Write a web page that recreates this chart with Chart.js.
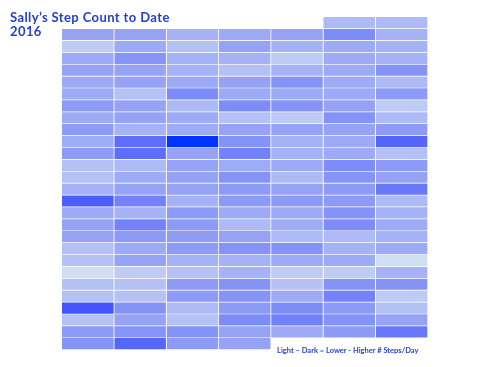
<!DOCTYPE html>
<html>
<head>
<meta charset="utf-8">
<script src="https://cdn.jsdelivr.net/npm/chart.js@4/dist/chart.umd.min.js"></script>
<style>
  html, body { margin: 0; padding: 0; background: #ffffff; }
  #wrap { position: relative; width: 490px; height: 367px; }
  #title { position: absolute; left: 10px; top: 10px; font-family: Lato, "Open Sans", sans-serif; font-weight: 700; font-size: 13px; letter-spacing: 0.4px; line-height: 14px; color: #2440cf; white-space: nowrap; }
  #note { position: absolute; left: 277px; top: 347px; font-family: Lato, "Open Sans", sans-serif; font-weight: 700; font-size: 7.5px; line-height: 8px; color: #2a44cc; white-space: nowrap; }
</style>
</head>
<body>
<div id="wrap">
  <canvas id="c" width="490" height="367"></canvas>
  <div id="title">Sally’s Step Count to Date<br>2016</div>
  <div id="note">Light – Dark = Lower - Higher # Steps/Day</div>
</div>
<script>
const days = ['Sun', 'Mon', 'Tue', 'Wed', 'Thu', 'Fri', 'Sat'];
const weeks = ['Dec 27', 'Jan 3', 'Jan 10', 'Jan 17', 'Jan 24', 'Jan 31', 'Feb 7', 'Feb 14', 'Feb 21', 'Feb 28',
  'Mar 6', 'Mar 13', 'Mar 20', 'Mar 27', 'Apr 3', 'Apr 10', 'Apr 17', 'Apr 24', 'May 1', 'May 8',
  'May 15', 'May 22', 'May 29', 'Jun 5', 'Jun 12', 'Jun 19', 'Jun 26', 'Jul 3'];

// Steps per day, one array per weekday column (rows = weeks)
const sun = [null,7610,4720,7030,7590,7040,7020,8170,7030,8160,7010,8180,5310,5290,6440,12190,7050,7600,7620,5320,5300,3580,5310,5280,12780,5300,8170,8760];
const mon = [null,7620,7030,8750,7600,7610,5310,7590,7620,6440,11040,11060,5870,7020,7610,9890,6450,9880,8170,7030,7600,4720,5300,5310,8760,7610,8750,11630];
const tue = [null,6440,5310,6450,6430,7030,9320,5870,7040,7030,17500,7600,7610,7620,7600,6440,8180,8170,8160,8170,6440,5300,8170,8180,5870,5300,8760,8170];
const wed = [null,7030,7610,6440,5300,7600,7030,9320,5310,7610,8760,9890,7020,8750,8170,8180,7030,5870,7610,8760,6450,6440,8760,8750,8170,9320,7600,7620];
const thu = [null,7600,6440,4720,6450,8760,7030,8750,4730,7620,6440,6450,7030,5870,7610,8170,7040,7020,5880,8760,7030,4720,5300,7030,9320,9890,7030,null];
const fri = [5870,9320,7030,7040,7030,7020,7030,7610,8760,7600,7030,7040,9320,8750,8170,8180,8760,9320,5870,6440,7030,4720,8760,9890,8170,8760,8170,null];
const sat = [5880,6440,6450,6440,8760,5870,8170,4720,5870,8170,11630,5300,8170,7610,10480,5870,6440,7030,6450,7030,3580,6440,8760,4720,5310,7610,10480,null];

const columns = [sun, mon, tue, wed, thu, fri, sat];
const all = columns.flat().filter(v => v !== null);
const minV = Math.min(...all), maxV = Math.max(...all);

const stops = [
  [0.000, [208, 222, 242]],
  [0.124, [180, 193, 245]],
  [0.289, [150, 163, 245]],
  [0.412, [125, 140, 247]],
  [0.536, [95, 110, 250]],
  [0.661, [68, 84, 253]],
  [1.000, [0, 51, 255]]
];
function colorFor(v) {
  const t = (v - minV) / (maxV - minV);
  for (let i = 1; i < stops.length; i++) {
    if (t <= stops[i][0]) {
      const [t0, c0] = stops[i - 1], [t1, c1] = stops[i];
      const f = (t - t0) / (t1 - t0);
      const c = c0.map((a, k) => Math.round(a + (c1[k] - a) * f));
      return `rgb(${c[0]},${c[1]},${c[2]})`;
    }
  }
  return 'rgb(0,51,255)';
}

const datasets = columns.map((col, ci) => ({
  label: days[ci],
  data: col.map(v => v === null ? null : [ci, ci + 1]),
  backgroundColor: col.map(v => v === null ? 'rgba(0,0,0,0)' : colorFor(v)),
  borderColor: 'rgba(255,255,255,0.75)',
  borderWidth: { top: 0, left: 0, right: 1, bottom: 1 },
  borderSkipped: false,
  grouped: false,
  barPercentage: 1,
  categoryPercentage: 1
}));

new Chart(document.getElementById('c'), {
  type: 'bar',
  data: { labels: weeks, datasets },
  options: {
    indexAxis: 'y',
    responsive: false,
    animation: false,
    layout: { padding: { left: 62, right: 62, top: 17, bottom: 17 } },
    plugins: { legend: { display: false }, tooltip: { enabled: false }, title: { display: false } },
    scales: {
      x: { type: 'linear', min: 0, max: 7, display: false },
      y: { type: 'category', display: false }
    }
  }
});
</script>
</body>
</html>
